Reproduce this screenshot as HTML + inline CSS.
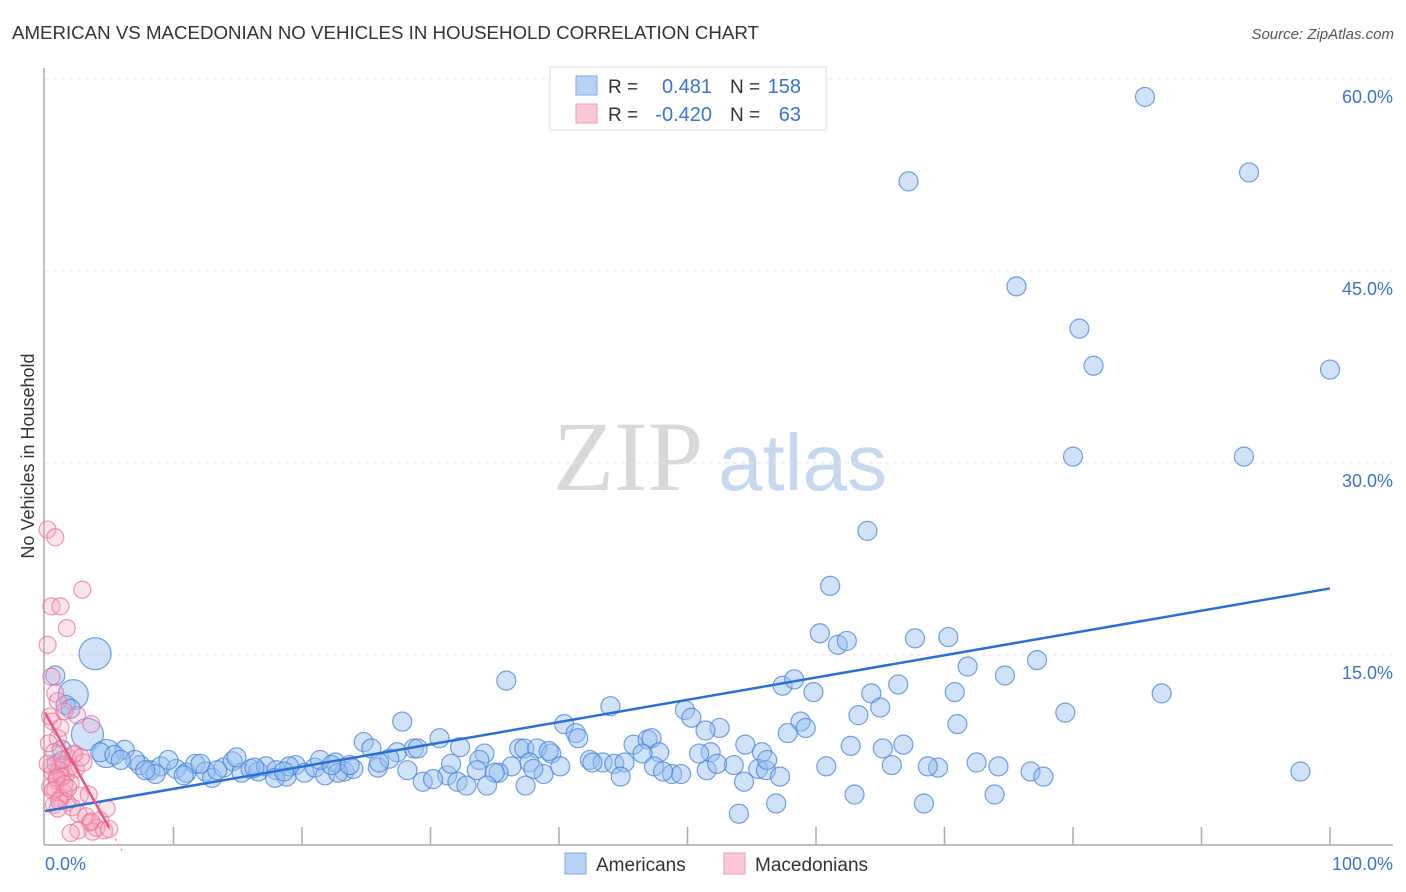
<!DOCTYPE html>
<html><head><meta charset="utf-8"><style>
body{margin:0;background:#fff;font-family:"Liberation Sans",sans-serif;}
svg{display:block}
</style></head><body>
<svg id="chart" width="1406" height="892">
<text x="12" y="39" font-size="18.7" fill="#333">AMERICAN VS MACEDONIAN NO VEHICLES IN HOUSEHOLD CORRELATION CHART</text>
<text x="1394" y="39" font-size="15" fill="#555" font-style="italic" text-anchor="end">Source: ZipAtlas.com</text>
<g>
<text x="553" y="490" font-size="100" fill="#d8d8d8" font-family="Liberation Serif,serif">ZIP</text>
<text x="718" y="490" font-size="80" fill="#c6d8ef">atlas</text>
</g>
<g id="grid"></g>
<g id="axes"></g>
<g id="pts"></g>
<g id="lines"></g>
<text transform="translate(34,456) rotate(-90)" font-size="18" fill="#333" text-anchor="middle">No Vehicles in Household</text>
<g>
<rect x="550" y="67" width="276" height="63" fill="#fff" stroke="#ddd"/>
<rect x="576" y="76" width="21" height="19" fill="#b8d2f5" stroke="#7fa9e3"/>
<rect x="576" y="104" width="21" height="19" fill="#fbc9d6" stroke="#ee9ab2"/>
<text x="608" y="93" font-size="19" fill="#333">R = </text>
<text x="712" y="93" font-size="20" fill="#3a74cf" text-anchor="end">0.481</text>
<text x="730" y="93" font-size="19" fill="#333">N =</text>
<text x="801" y="93" font-size="20" fill="#3a74cf" text-anchor="end">158</text>
<text x="608" y="121" font-size="19" fill="#333">R = </text>
<text x="712" y="121" font-size="20" fill="#3a74cf" text-anchor="end">-0.420</text>
<text x="730" y="121" font-size="19" fill="#333">N =</text>
<text x="801" y="121" font-size="20" fill="#3a74cf" text-anchor="end">63</text>
</g>
<g>
<rect x="565" y="853" width="21" height="21" fill="#b8d2f5" stroke="#7fa9e3"/>
<text x="596" y="871" font-size="19" fill="#333">Americans</text>
<rect x="724" y="853" width="21" height="21" fill="#fbc9d6" stroke="#ee9ab2"/>
<text x="755" y="871" font-size="19" fill="#333">Macedonians</text>
</g>
</svg>
<script>
const yTicks=[15,30,45,60];
const yTickLabels=["15.0%","30.0%","45.0%","60.0%"];
const xTickLabels=["0.0%","100.0%"];
const blueX=[85.6,67.2,93.7,75.6,80.5,81.6,100,80.0,93.3,64.0,61.1,60.3,61.7,62.4,67.7,70.3,71.8,77.2,74.7,86.9,70.8,66.4,64.3,59.8,57.4,58.3,63.3,65.0,79.4,35.9,44.0,49.8,50.3,58.8,59.2,52.5,51.4,57.8,66.8,54.5,55.8,51.8,50.9,40.4,41.3,41.5,45.8,46.9,47.2,47.8,27.8,30.7,24.8,25.4,27.4,28.7,32.3,34.2,33.8,36.9,37.3,38.3,39.4,37.7,36.3,42.4,43.4,44.3,42.6,45.1,46.5,48.8,49.5,53.6,55.5,56.1,54.4,60.8,65.9,69.5,72.5,74.2,76.7,77.7,97.7,63.0,56.9,54.0,68.4,73.9,29.4,31.3,32.1,32.8,33.6,35.3,38.8,40.1,
3.9,2.2,0.8,1.6,2.0,3.3,4.8,6.2,4.3,5.4,7.4,7.0,8.2,9.0,8.6,10.2,11.0,11.7,12.5,13.0,13.9,14.6,15.3,16.0,16.6,17.2,18.0,18.8,19.5,20.2,21.0,21.8,22.6,23.3,24.0,9.6,12.1,14.9,17.9,19.0,21.4,22.8,25.9,26.8,28.2,31.6,35.0,38.0,30.2,26.0,22.3,18.6,16.3,13.4,10.8,0.9,1.3,5.9,7.8,44.8,29.0,23.7,39.2,47.4,48.1,51.5,52.3,56.2,57.2,68.7,65.2,62.7,71.0,34.4,37.4];
const blueY=[58.6,52.0,52.7,43.8,40.5,37.6,37.3,30.5,30.5,24.7,20.4,16.7,15.8,16.1,16.3,16.4,14.1,14.6,13.4,12.0,12.1,12.7,12.0,12.1,12.6,13.1,10.3,10.9,10.5,13.0,11.0,10.7,10.1,9.8,9.3,9.3,9.1,8.9,8.0,8.0,7.4,7.4,7.3,9.6,8.9,8.5,8.0,8.4,8.5,7.4,9.8,8.5,8.2,7.7,7.4,7.7,7.8,7.3,6.8,7.7,7.7,7.7,7.3,6.6,6.3,6.8,6.6,6.5,6.6,6.6,7.3,5.7,5.7,6.4,6.1,6.0,5.1,6.3,6.4,6.2,6.6,6.3,5.9,5.5,5.9,4.1,3.4,2.6,3.4,4.1,5.1,5.6,5.1,4.8,6.0,5.8,5.7,6.3,
15.1,11.9,13.4,11.1,10.8,8.8,7.3,7.6,7.4,7.2,6.4,6.8,6.0,6.3,5.7,6.1,5.8,6.5,5.9,5.4,6.2,6.7,5.8,6.1,5.9,6.3,6.0,5.5,6.4,5.8,6.2,5.6,6.6,5.9,6.1,6.8,6.5,7.0,5.4,6.3,6.8,5.8,6.2,6.9,6.0,6.5,5.8,6.1,5.3,6.6,6.4,5.9,6.2,6.0,5.6,6.5,7.6,6.8,6.0,5.5,7.7,6.4,7.5,6.3,5.9,6.0,6.5,6.8,5.5,6.3,7.7,7.9,9.6,4.8,4.8];
const pinkX=[0.2,0.8,2.9,0.5,1.2,1.7,0.2,0.5,0.8,1.0,0.4,1.5,0.6,1.2,2.5,3.6,1.0,0.3,0.7,1.8,2.2,0.5,1.4,1.9,0.6,1.1,1.6,2.4,0.9,1.3,2.0,0.4,0.8,1.5,2.7,3.4,1.2,1.7,2.1,0.7,1.0,2.6,3.2,3.5,4.3,4.8,2.6,2.0,3.7,4.0,3.6,4.6,5.0,1.3,0.2,0.9,2.3,3.0,1.5,0.6,2.8,1.1,1.8];
const pinkY=[24.8,24.2,20.1,18.8,18.8,17.1,15.8,13.3,12.0,11.4,10.2,10.6,9.8,9.3,10.3,9.6,8.5,8.1,7.4,7.0,7.2,6.3,6.4,6.2,5.8,6.0,5.6,6.1,5.2,5.5,5.0,4.7,4.5,4.2,4.0,4.1,3.8,3.5,3.1,3.3,3.0,2.6,2.4,1.9,2.1,3.0,1.3,1.1,1.2,1.5,2.0,1.3,1.4,6.8,6.5,5.4,7.3,6.6,4.9,4.4,7.0,3.6,4.6];
const blueTrend=[2.8,20.2];
const pinkTrend=[10.5,1.5];
const X=v=>45+v*12.85, Y=v=>847-v*12.8;
const NS="http://www.w3.org/2000/svg";
function mk(tag,attrs,parent){const e=document.createElementNS(NS,tag);for(const k in attrs)e.setAttribute(k,attrs[k]);parent.appendChild(e);return e;}
const grid=document.getElementById('grid'),axes=document.getElementById('axes'),pts=document.getElementById('pts'),lines=document.getElementById('lines');
yTicks.forEach((t,i)=>{
 const l=mk('line',{x1:45,x2:1393,y1:Y(t),y2:Y(t),stroke:'#e6e6e6','stroke-dasharray':'4,4'},grid);
 
 
 const tx=mk('text',{x:1393,y:Y(t)+24,'font-size':18,fill:'#3a74cf','text-anchor':'end'},grid);
 tx.textContent=yTickLabels[i];
 
 
});
const ya=mk('line',{x1:44,x2:44,y1:68,y2:845,stroke:'#aaa','stroke-width':1.5},axes);


const xa=mk('line',{x1:44,x2:1393,y1:845,y2:845,stroke:'#aaa','stroke-width':1.5},axes);


for(let i=1;i<=10;i++){const t=mk('line',{x1:X(i*10),x2:X(i*10),y1:827,y2:845,stroke:'#aaa','stroke-width':1.5},axes);
 
 }
[[0,'start',45],[1,'end',1393]].forEach(([i,a,x])=>{const t=mk('text',{x:x,y:870,'font-size':18,fill:'#3a74cf','text-anchor':a},axes);t.textContent=xTickLabels[i];
 
 });
const big={98:16,99:15,103:16,104:14};
blueX.forEach((x,i)=>{const c=mk('circle',{cx:X(x),cy:Y(blueY[i]),r:big[i]||9.5,fill:'rgba(150,190,240,0.45)',stroke:'rgba(70,130,215,0.75)','stroke-width':1.2},pts);
 
 });
pinkX.forEach((x,i)=>{const c=mk('circle',{cx:X(x),cy:Y(pinkY[i]),r:8.5,fill:'rgba(245,165,190,0.3)',stroke:'rgba(232,110,150,0.7)','stroke-width':1.2},pts);
 
 });
const bl=mk('line',{x1:X(0),y1:Y(blueTrend[0]),x2:X(100),y2:Y(blueTrend[1]),stroke:'#2a6fd6','stroke-width':2.5},lines);


const pl=mk('line',{x1:X(0),y1:Y(pinkTrend[0]),x2:X(5),y2:Y(pinkTrend[1]),stroke:'#e8557f','stroke-width':2.5},lines);


const pd=mk('line',{x1:X(5),y1:Y(pinkTrend[1]),x2:X(6),y2:Y(pinkTrend[1]-1.8),stroke:'#f0a0b8','stroke-width':1.5,'stroke-dasharray':'3,3'},lines);


</script>
</body></html>
